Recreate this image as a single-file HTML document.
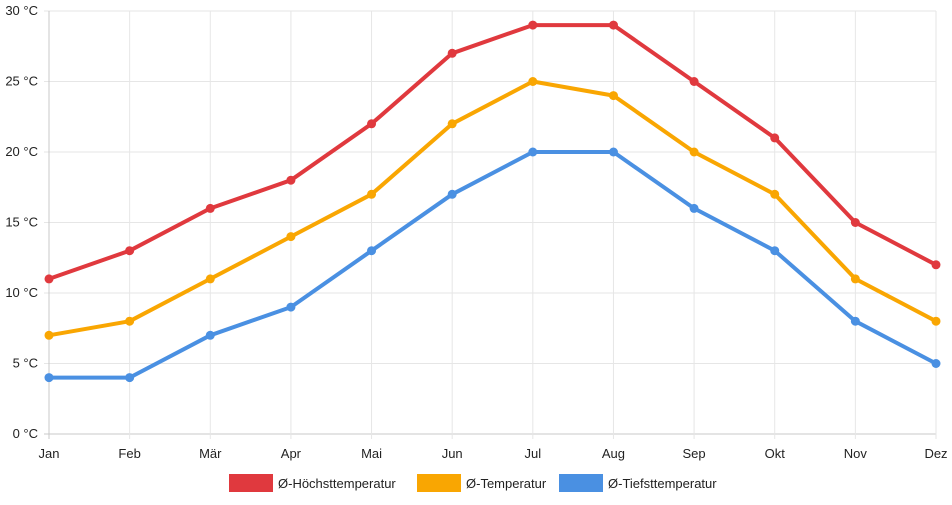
<!DOCTYPE html>
<html><head><meta charset="utf-8"><style>
body{margin:0;background:#fff;font-family:"Liberation Sans",sans-serif}
svg text{font-family:"Liberation Sans",sans-serif;font-size:13px;fill:#222}
</style></head><body>
<svg id="chart" width="952" height="500"></svg>
<script>
const months=["Jan","Feb","Mär","Apr","Mai","Jun","Jul","Aug","Sep","Okt","Nov","Dez"];
const highTemps=[11,13,16,18,22,27,29,29,25,21,15,12];
const meanTemps=[7,8,11,14,17,22,25,24,20,17,11,8];
const lowTemps=[4,4,7,9,13,17,20,20,16,13,8,5];
const yTicks=[0,5,10,15,20,25,30];
const NS="http://www.w3.org/2000/svg";
const svg=document.getElementById('chart');
const x0=49,x1=936,yTop=11,yBot=434,yMax=30;
const xs=i=>x0+i*(x1-x0)/(months.length-1);
const ys=v=>yBot-v*(yBot-yTop)/yMax;
function mk(t,a,p){const e=document.createElementNS(NS,t);for(const k in a)e.setAttribute(k,a[k]);(p||svg).appendChild(e);return e;}
const grid=mk('g',{});


yTicks.forEach(v=>{
 const l=mk('line',{x1:x0-5,x2:x1,y1:ys(v),y2:ys(v),stroke:v===0?'#c8c8c8':'#e6e6e6','stroke-width':1},grid);
 
 
 const t=mk('text',{x:x0-11,y:ys(v)+4,'text-anchor':'end'});
 t.textContent=v+' °C';
 
 
});
months.forEach((m,i)=>{
 const l=mk('line',{x1:xs(i),x2:xs(i),y1:yTop,y2:yBot+5,stroke:i===0?'#c8c8c8':'#e6e6e6','stroke-width':1},grid);
 
 
 const t=mk('text',{x:xs(i),y:yBot+24,'text-anchor':'middle'});
 t.textContent=m;
 
 
});
const series=[[highTemps,'#e0393e','high-temp'],[meanTemps,'#f9a602','mean-temp'],[lowTemps,'#4a90e2','low-temp']];
series.forEach(([d,c,n])=>{
 const g=mk('g',{});
 
 
 const p=mk('polyline',{points:d.map((v,i)=>xs(i)+','+ys(v)).join(' '),fill:'none',stroke:c,'stroke-width':4,'stroke-linejoin':'round'},g);
 
 
 d.forEach((v,i)=>{
  const pt=mk('circle',{cx:xs(i),cy:ys(v),r:4.5,fill:c},g);
  
  
 });
});
const legend=[['Ø-Höchsttemperatur','#e0393e',229],['Ø-Temperatur','#f9a602',417],['Ø-Tiefsttemperatur','#4a90e2',559]];
legend.forEach(([txt,c,x])=>{
 const g=mk('g',{});
 
 
 mk('rect',{x:x,y:474,width:44,height:18,fill:c},g);
 const t=mk('text',{x:x+49,y:488},g);
 t.textContent=txt;
});
</script>
</body></html>
